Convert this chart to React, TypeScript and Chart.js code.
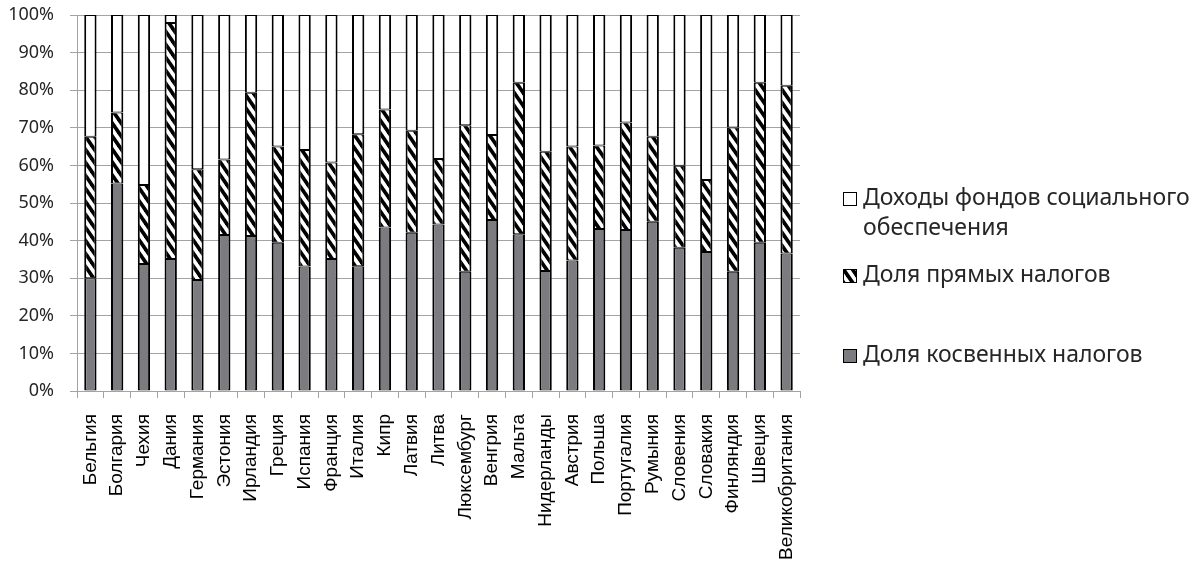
import React, { useEffect, useRef } from "react";
import { Chart, registerables } from "chart.js";

Chart.register(...registerables);

// Structure of tax revenues by EU country, % of total
const countries = [
  "Бельгия", "Болгария", "Чехия", "Дания", "Германия", "Эстония", "Ирландия",
  "Греция", "Испания", "Франция", "Италия", "Кипр", "Латвия", "Литва",
  "Люксембург", "Венгрия", "Мальта", "Нидерланды", "Австрия", "Польша",
  "Португалия", "Румыния", "Словения", "Словакия", "Финляндия", "Швеция",
  "Великобритания",
];

const indirectShare = [
  30.0, 55.2, 33.8, 35.1, 29.5, 41.5, 41.2, 39.4, 33.1, 35.1, 33.2, 43.5, 42.1, 44.3,
  31.7, 45.5, 41.7, 31.9, 34.7, 43.1, 42.8, 45.0, 38.1, 37.0, 31.7, 39.4, 36.6,
];

const directShare = [
  37.6, 18.9, 21.0, 62.8, 29.5, 20.1, 38.1, 25.6, 31.0, 25.7, 35.1, 31.4, 27.1, 17.4,
  39.0, 22.6, 40.3, 31.7, 30.3, 22.2, 28.6, 22.6, 21.8, 19.1, 38.4, 42.6, 44.6,
];

const socialShare = [
  32.4, 25.9, 45.2, 2.1, 41.0, 38.4, 20.7, 35.0, 35.9, 39.2, 31.7, 25.1, 30.8, 38.3,
  29.3, 31.9, 18.0, 36.4, 35.0, 34.7, 28.6, 32.4, 40.1, 43.9, 29.9, 18.0, 18.8,
];

const seriesNames = {
  indirect: "Доля косвенных налогов",
  direct: "Доля прямых налогов",
  social: ["Доходы фондов социального", "обеспечения"],
};

const GRAY = "#7b7b80";
const GRID = "#a3a3a3";
const TEXT = "#262626";

function makeHatch(): CanvasPattern | string {
  const w = 9;
  const h = 13;
  const c = document.createElement("canvas");
  c.width = w;
  c.height = h;
  const g = c.getContext("2d");
  if (!g) return "#888";
  g.fillStyle = "#ffffff";
  g.fillRect(0, 0, w, h);
  g.strokeStyle = "#000000";
  g.lineWidth = 3.7;
  for (let k = -1; k <= 1; k++) {
    g.beginPath();
    g.moveTo(k * w - w, -h);
    g.lineTo(k * w + 2 * w, 2 * h);
    g.stroke();
  }
  return g.createPattern(c, "repeat") || "#888";
}

export default function App() {
  const canvasRef = useRef<HTMLCanvasElement | null>(null);

  useEffect(() => {
    const canvas = canvasRef.current;
    if (!canvas) return;
    const hatch = makeHatch();

    // Legend drawn to the right of the plot area
    const sideLegend = {
      id: "sideLegend",
      afterDraw(chart: any) {
        const ctx: CanvasRenderingContext2D = chart.ctx;
        const x = chart.chartArea.right + 43;
        const textX = x + 20;
        const box = 14;
        const entries = [
          { fill: "#ffffff", lines: seriesNames.social, base: 205 },
          { fill: hatch, lines: [seriesNames.direct], base: 282 },
          { fill: GRAY, lines: [seriesNames.indirect], base: 362 },
        ];
        ctx.save();
        ctx.font = "23px 'Noto Sans'";
        ctx.textBaseline = "alphabetic";
        ctx.textAlign = "left";
        for (const e of entries) {
          const top = e.base - box + 1;
          ctx.fillStyle = e.fill as any;
          ctx.fillRect(x, top, box, box);
          ctx.strokeStyle = "#000";
          ctx.lineWidth = 1;
          ctx.strokeRect(x + 0.5, top + 0.5, box - 1, box - 1);
          ctx.fillStyle = TEXT;
          e.lines.forEach((ln, i) => ctx.fillText(ln, textX, e.base + i * 30));
        }
        ctx.restore();
      },
    };

    const border = { top: 1, bottom: 1, left: 2, right: 2 };
    const common = {
      borderColor: "#000000",
      borderWidth: border,
      borderSkipped: false as const,
      barPercentage: 0.46,
      categoryPercentage: 1,
    };

    const chart = new Chart(canvas, {
      type: "bar",
      data: {
        labels: countries,
        datasets: [
          { label: seriesNames.indirect, data: indirectShare, backgroundColor: GRAY, ...common },
          { label: seriesNames.direct, data: directShare, backgroundColor: hatch as any, ...common },
          { label: seriesNames.social.join(" "), data: socialShare, backgroundColor: "#ffffff", ...common },
        ],
      },
      options: {
        responsive: false,
        animation: false,
        layout: { padding: { top: 15, right: 404, left: 0, bottom: 0 } },
        plugins: { legend: { display: false }, tooltip: { enabled: false } },
        scales: {
          x: {
            stacked: true,
            offset: true,
            grid: {
              display: true,
              offset: true,
              drawOnChartArea: false,
              drawTicks: true,
              tickLength: 7,
              color: GRID,
            },
            border: { display: true, color: GRID, width: 1 },
            ticks: {
              autoSkip: false,
              minRotation: 90,
              maxRotation: 90,
              padding: 16,
              color: "#000",
              font: { family: "'Liberation Sans', Arial, sans-serif", size: 19 },
            },
            afterFit(scale: any) {
              scale.height = 173;
            },
          },
          y: {
            stacked: true,
            min: 0,
            max: 100,
            grid: { color: GRID, tickLength: 7, lineWidth: 1 },
            border: { display: true, color: GRID, width: 1 },
            ticks: {
              stepSize: 10,
              padding: 16,
              color: TEXT,
              font: { family: "'Noto Sans', sans-serif", size: 18 },
              callback: (v: any) => `${v}%`,
            },
            afterFit(scale: any) {
              scale.width = 77;
              scale.paddingTop = 0;
              scale.paddingBottom = 0;
            },
          },
        },
      },
      plugins: [sideLegend],
    });

    return () => chart.destroy();
  }, []);

  return (
    <div style={{ position: "fixed", left: 0, top: 0, width: 1204, height: 564, background: "#fff" }}>
      <canvas ref={canvasRef} width={1204} height={564} />
    </div>
  );
}
